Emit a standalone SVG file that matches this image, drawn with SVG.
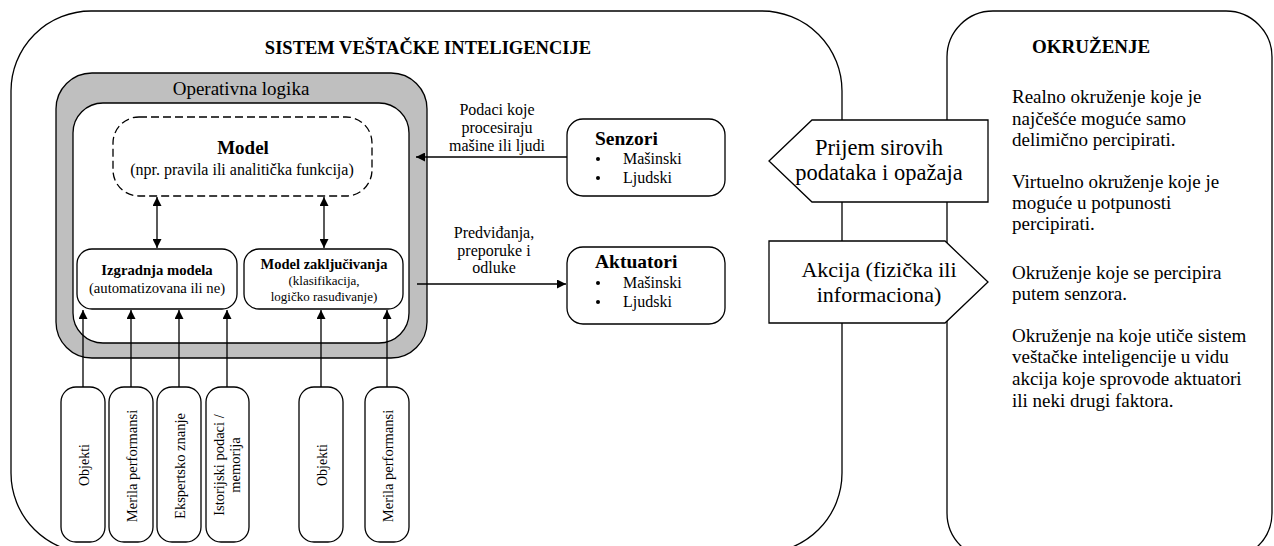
<svg xmlns="http://www.w3.org/2000/svg" width="1274" height="546" viewBox="0 0 1274 546">
  <style>
    text { font-family: "Liberation Serif", "DejaVu Serif", serif; fill: #000; }
    .frame { fill: #fff; stroke: #000; stroke-width: 1.3; }
    .box { fill: #fff; stroke: #000; stroke-width: 1.3; }
    .dash { fill: #fff; stroke: #000; stroke-width: 1.3; stroke-dasharray: 8 4; }
    .ops { fill: #bfbfbf; stroke: #000; stroke-width: 1.3; }
    .link { fill: none; stroke: #000; stroke-width: 1.3; }
    .b { font-weight: bold; }
    .c { text-anchor: middle; }
  </style>
  <defs>
    <marker id="arrow" viewBox="0 0 10 10" refX="10" refY="5" markerWidth="10" markerHeight="9" markerUnits="userSpaceOnUse" orient="auto-start-reverse">
      <path d="M0,0 L10,5 L0,10 Z" fill="#000"/>
    </marker>
  </defs>

  <!-- outer frames -->
  <g id="system">
    <rect class="frame" x="11" y="11" width="831" height="542" rx="80"/>
    <text class="b c" x="428" y="54" font-size="18.5">SISTEM VEŠTAČKE INTELIGENCIJE</text>
  </g>
  <g id="environment">
    <rect class="frame" x="947" y="11" width="325" height="548" rx="46"/>
    <text class="b" x="1032" y="53" font-size="19">OKRUŽENJE</text>
    <g font-size="19">
      <text x="1012" y="103">Realno okruženje koje je</text>
      <text x="1012" y="125">najčešće moguće samo</text>
      <text x="1012" y="146">delimično percipirati.</text>
      <text x="1012" y="188">Virtuelno okruženje koje je</text>
      <text x="1012" y="209">moguće u potpunosti</text>
      <text x="1012" y="230">percipirati.</text>
      <text x="1012" y="279">Okruženje koje se percipira</text>
      <text x="1012" y="300">putem senzora.</text>
      <text x="1012" y="342">Okruženje na koje utiče sistem</text>
      <text x="1012" y="363">veštačke inteligencije u vidu</text>
      <text x="1012" y="385">akcija koje sprovode aktuatori</text>
      <text x="1012" y="407">ili neki drugi faktora.</text>
    </g>
  </g>

  <!-- operational logic -->
  <g id="operativna-logika">
    <rect class="ops" x="56" y="73" width="371" height="285" rx="36"/>
    <rect class="box" x="73" y="103" width="336" height="240" rx="30"/>
    <text class="c" x="241" y="95" font-size="19">Operativna logika</text>
  </g>

  <g id="model">
    <rect class="dash" x="113" y="117" width="259" height="79" rx="26"/>
    <text class="b c" x="243" y="154" font-size="19">Model</text>
    <text class="c" x="242" y="175" font-size="16">(npr. pravila ili analitička funkcija)</text>
  </g>

  <g id="izgradnja-modela">
    <rect class="box" x="77" y="249" width="160" height="60" rx="15"/>
    <text class="b c" x="157" y="275" font-size="14.7">Izgradnja modela</text>
    <text class="c" x="157" y="293" font-size="14.7">(automatizovana ili ne)</text>
  </g>

  <g id="model-zakljucivanja">
    <rect class="box" x="244" y="249" width="159" height="60" rx="15"/>
    <text class="b c" x="324" y="269" font-size="14.5">Model zaključivanja</text>
    <text class="c" x="324" y="285" font-size="13">(klasifikacija,</text>
    <text class="c" x="324" y="301" font-size="13">logičko rasuđivanje)</text>
  </g>

  <g id="senzori">
    <rect class="box" x="567" y="119" width="158" height="77" rx="16"/>
    <text class="b" x="595" y="145" font-size="19.5">Senzori</text>
    <circle cx="598" cy="159" r="2"/>
    <circle cx="598" cy="178" r="2"/>
    <text x="623" y="164" font-size="16">Mašinski</text>
    <text x="623" y="183" font-size="16">Ljudski</text>
  </g>

  <g id="aktuatori">
    <rect class="box" x="567" y="247" width="158" height="77" rx="16"/>
    <text class="b" x="595" y="268" font-size="19.5">Aktuatori</text>
    <circle cx="598" cy="283" r="2"/>
    <circle cx="598" cy="302" r="2"/>
    <text x="623" y="288" font-size="16">Mašinski</text>
    <text x="623" y="307" font-size="16">Ljudski</text>
  </g>

  <!-- input sources -->
  <g id="izvor-objekti-1">
    <rect class="box" x="61" y="387" width="44" height="155" rx="15"/>
    <text class="c" transform="translate(89 465) rotate(-90)" font-size="14">Objekti</text>
  </g>
  <g id="izvor-merila-1">
    <rect class="box" x="109" y="387" width="44" height="155" rx="15"/>
    <text class="c" transform="translate(137 466) rotate(-90)" font-size="14.5">Merila performansi</text>
  </g>
  <g id="izvor-ekspertsko-znanje">
    <rect class="box" x="157" y="387" width="44" height="155" rx="15"/>
    <text class="c" transform="translate(185 466) rotate(-90)" font-size="14.5">Ekspertsko znanje</text>
  </g>
  <g id="izvor-istorijski-podaci">
    <rect class="box" x="206" y="387" width="43" height="155" rx="15"/>
    <text class="c" transform="translate(224 465) rotate(-90)" font-size="14.5">Istorijski podaci /</text>
    <text class="c" transform="translate(240 465) rotate(-90)" font-size="14.5">memorija</text>
  </g>
  <g id="izvor-objekti-2">
    <rect class="box" x="299" y="387" width="44" height="155" rx="15"/>
    <text class="c" transform="translate(327 465) rotate(-90)" font-size="14">Objekti</text>
  </g>
  <g id="izvor-merila-2">
    <rect class="box" x="365" y="387" width="44" height="155" rx="15"/>
    <text class="c" transform="translate(393 466) rotate(-90)" font-size="14.5">Merila performansi</text>
  </g>

  <!-- connectors -->
  <g id="connectors">
    <line class="link" x1="157" y1="197" x2="157" y2="248" marker-start="url(#arrow)" marker-end="url(#arrow)"/>
    <line class="link" x1="324" y1="197" x2="324" y2="248" marker-start="url(#arrow)" marker-end="url(#arrow)"/>
    <line class="link" x1="83" y1="387" x2="83" y2="310" marker-end="url(#arrow)"/>
    <line class="link" x1="131" y1="387" x2="131" y2="310" marker-end="url(#arrow)"/>
    <line class="link" x1="179" y1="387" x2="179" y2="310" marker-end="url(#arrow)"/>
    <line class="link" x1="227" y1="387" x2="227" y2="310" marker-end="url(#arrow)"/>
    <line class="link" x1="321" y1="387" x2="321" y2="310" marker-end="url(#arrow)"/>
    <line class="link" x1="387" y1="387" x2="387" y2="310" marker-end="url(#arrow)"/>
    <line class="link" x1="567" y1="157" x2="416" y2="157" marker-end="url(#arrow)"/>
    <line class="link" x1="417" y1="284" x2="566" y2="284" marker-end="url(#arrow)"/>
    <g font-size="16">
      <text class="c" x="497" y="115">Podaci koje</text>
      <text class="c" x="497" y="133">procesiraju</text>
      <text class="c" x="497" y="151">mašine ili ljudi</text>
      <text class="c" x="494" y="238">Predviđanja,</text>
      <text class="c" x="494" y="256">preporuke i</text>
      <text class="c" x="494" y="273">odluke</text>
    </g>
  </g>

  <!-- exchange with the environment -->
  <g id="prijem">
    <polygon class="box" points="769,161 812,120 988,120 988,202 812,202"/>
    <text class="c" x="879" y="155" font-size="22.5">Prijem sirovih</text>
    <text class="c" x="879" y="180" font-size="22.5">podataka i opažaja</text>
  </g>
  <g id="akcija">
    <polygon class="box" points="769,241 945,241 988,282 945,323 769,323"/>
    <text class="c" x="879" y="277" font-size="22">Akcija (fizička ili</text>
    <text class="c" x="879" y="302" font-size="22">informaciona)</text>
  </g>
</svg>
